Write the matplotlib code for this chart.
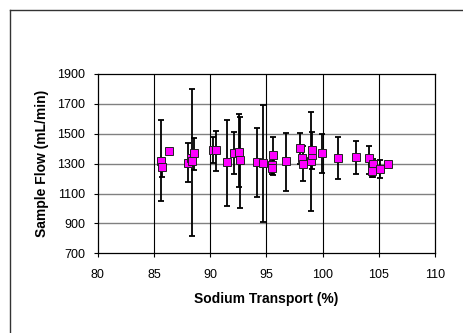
import matplotlib
matplotlib.use("Agg")
import matplotlib.pyplot as plt
import numpy as np
from matplotlib.lines import Line2D

# Data
sodium = [85.6, 85.75, 86.37, 88.0, 88.27, 88.4, 88.6, 90.28, 90.49, 91.47, 92.09,
          92.56, 92.65, 94.19, 94.72, 95.61, 95.52, 95.52, 96.74, 97.98, 98.13, 98.28,
          98.93, 99.03, 99.08, 99.91, 101.33, 102.96, 104.15, 104.5, 104.4, 105.12, 105.83]
flow = [1320, 1275, 1383, 1302, 1340, 1318, 1373, 1391, 1391, 1313, 1369,
        1376, 1322, 1313, 1302, 1358, 1290, 1268, 1318, 1403, 1336, 1296,
        1320, 1358, 1391, 1369, 1336, 1347, 1340, 1296, 1253, 1264, 1298]
flow_low = [1052, 1213, 1383, 1179, 1340, 818, 1257, 1302, 1253, 1019, 1229,
            1142, 1001, 1079, 907, 1224, 1230, 1268, 1117, 1300, 1336, 1183,
            985, 1358, 1265, 1240, 1197, 1231, 1229, 1210, 1209, 1206, 1298]
flow_high = [1592, 1330, 1383, 1436, 1340, 1797, 1470, 1480, 1521, 1592, 1510,
             1632, 1614, 1537, 1693, 1480, 1320, 1268, 1508, 1503, 1336, 1415,
             1648, 1358, 1514, 1496, 1476, 1452, 1418, 1330, 1253, 1324, 1298]
x_ticks = [80, 85, 90, 95, 100, 105, 110]
y_ticks = [700, 900, 1100, 1300, 1500, 1700, 1900]

plt.rcParams['font.family'] = ['Liberation Sans', 'DejaVu Sans']

fig = plt.figure(figsize=(4.63, 3.33), dpi=100)
ax = fig.add_axes([0.211, 0.2393, 0.7285, 0.5387])

y = np.array(flow)
yerr = np.vstack([y - np.array(flow_low), np.array(flow_high) - y])
ax.errorbar(sodium, flow, yerr=yerr, fmt='none', ecolor='black', elinewidth=1.3,
            capsize=2.5, capthick=1.3, zorder=3)
ax.plot(sodium, flow, linestyle='none', marker='s', markersize=6.2,
        markerfacecolor='#FF00FF', markeredgecolor='#222222', markeredgewidth=0.7,
        zorder=4)

ax.set_xlim(80, 110)
ax.set_ylim(700, 1900)
ax.set_xticks(x_ticks)
ax.set_yticks(y_ticks)
ax.set_xticklabels([str(v) for v in x_ticks])
ax.set_yticklabels([str(v) for v in y_ticks])
ax.tick_params(axis='both', direction='out', length=3, width=0.8, labelsize=9)
ax.tick_params(axis='y', pad=6)
ax.tick_params(axis='x', pad=8)

for v in y_ticks[1:-1]:
    ax.axhline(v, color='#808080', linewidth=1.0, zorder=1)
for v in x_ticks[1:-1]:
    ax.axvline(v, color='black', linewidth=0.8, zorder=1)

for s in ax.spines.values():
    s.set_color('black')
    s.set_linewidth(0.9)

ax.set_xlabel('Sodium Transport (%)', fontsize=10, fontweight='bold', labelpad=8)
ax.set_ylabel('Sample Flow (mL/min)', fontsize=10, fontweight='bold', labelpad=6)

# Chart area border (top and left visible)
fig.add_artist(Line2D([9.5/463, 1.0], [1 - 9.5/333, 1 - 9.5/333], color='#333333',
                      linewidth=1.0, transform=fig.transFigure))
fig.add_artist(Line2D([9.5/463, 9.5/463], [0.0, 1 - 9.5/333], color='#333333',
                      linewidth=1.0, transform=fig.transFigure))

fig.savefig('out.png', dpi=100)
